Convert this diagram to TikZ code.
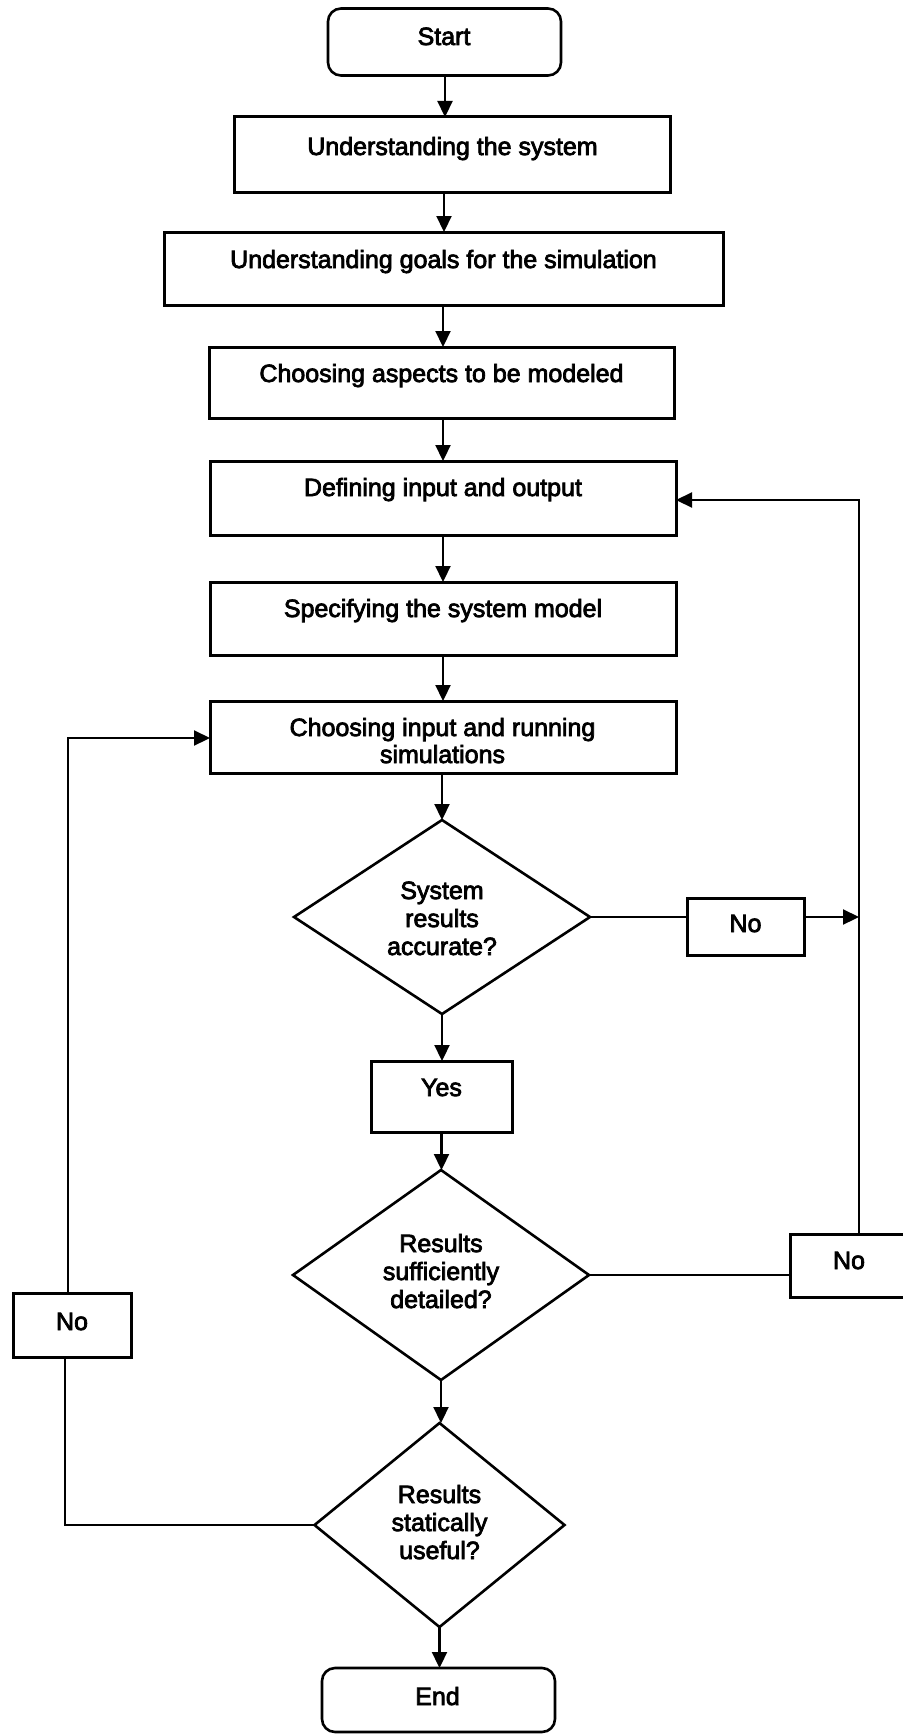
\documentclass[tikz,border=0pt]{standalone}
\usepackage{fontspec}
\setmainfont{Liberation Sans}[RawFeature={embolden=3}]
\usetikzlibrary{shapes.geometric,arrows.meta}
\begin{document}
\begin{tikzpicture}[x=1pt,y=-1pt,
  box/.style={draw, line width=3pt, inner sep=0pt, outer sep=0pt},
  term/.style={box, line width=2.6pt, rounded corners=13pt},
  dia/.style={draw, diamond, line width=2.6pt, inner sep=0pt, outer sep=0pt},
  txt/.style={font=\fontsize{25}{28}\selectfont, inner sep=0pt, anchor=base},
  mtxt/.style={font=\fontsize{25}{27}\selectfont, align=center, inner sep=0pt, anchor=base},
  dtxt/.style={font=\fontsize{25}{28}\selectfont, align=center, inner sep=0pt, anchor=base},
  conn/.style={line width=2.2pt},
  arr/.style={conn, -{Triangle[length=16pt,width=15pt]}}
]
\useasboundingbox (0,0) rectangle (902,1734);
% boxes
\node[term, minimum width=233pt, minimum height=67pt] (start) at (444.5,42) {};
\node[txt] (startt) at (444,45) {Start};
\node[box, minimum width=436pt, minimum height=75pt] (und) at (452,154.5) {};
\node[txt] (undt) at (452.5,155) {Understanding the system};
\node[box, minimum width=559pt, minimum height=73pt] (goals) at (443.5,268.5) {};
\node[txt] (goalst) at (443.5,268) {Understanding goals for the simulation};
\node[box, minimum width=465pt, minimum height=71pt] (asp) at (441.5,382.5) {};
\node[txt] (aspt) at (441.5,382) {Choosing aspects to be modeled};
\node[box, minimum width=466pt, minimum height=74pt] (def) at (443,498) {};
\node[txt] (deft) at (443,496) {Defining input and output};
\node[box, minimum width=466pt, minimum height=73pt] (spec) at (443,618.5) {};
\node[txt] (spect) at (443,617) {Specifying the system model};
\node[box, minimum width=466pt, minimum height=72pt] (choose) at (443,737) {};
\node[mtxt] (chooset) at (442.5,763) {Choosing input and running\\simulations};
% decisions
\node[dia, minimum width=296pt, minimum height=194pt] (d1) at (442,917) {};
\node[dtxt] (d1t) at (442,955) {System\\results\\accurate?};
\node[box, minimum width=117pt, minimum height=57pt] (no1) at (745.5,926.5) {};
\node[txt] (no1t) at (745.5,932) {No};
\node[box, minimum width=141pt, minimum height=71pt] (yes) at (441.5,1096.5) {};
\node[txt] (yest) at (441.5,1096) {Yes};
\node[dia, minimum width=296pt, minimum height=210pt] (d2) at (441,1275) {};
\node[dtxt] (d2t) at (441,1308) {Results\\sufficiently\\detailed?};
\node[box, minimum width=130pt, minimum height=63pt] (no2) at (855,1265.5) {};
\node[txt] (no2t) at (849,1269) {No};
\node[box, minimum width=118pt, minimum height=64pt] (no3) at (72,1325) {};
\node[txt] (no3t) at (72,1330) {No};
\node[dia, minimum width=250pt, minimum height=204pt] (d3) at (439.5,1525) {};
\node[dtxt] (d3t) at (439.5,1559) {Results\\statically\\useful?};
\node[term, minimum width=233pt, minimum height=64pt] (end) at (438.5,1700) {};
\node[txt] (endt) at (437.5,1705) {End};
% junction points
\coordinate (rtop) at (859,500);
\coordinate (rmid) at (859,917);
\coordinate (ltop) at (68,738);
\coordinate (lbot) at (65,1525);
% main flow
\draw[arr] (start.south -| 445,0) -- (445,0 |- und.north);
\draw[arr] (und.south -| 444,0) -- (444,0 |- goals.north);
\draw[arr] (goals.south -| 443,0) -- (443,0 |- asp.north);
\draw[arr] (asp.south -| 443,0) -- (443,0 |- def.north);
\draw[arr] (def.south) -- (def.south |- spec.north);
\draw[arr] (spec.south) -- (spec.south |- choose.north);
\draw[arr] (choose.south -| d1.north) -- (d1.north);
\draw[arr] (d1.south) -- (d1.south |- yes.north);
\draw[arr] (yes.south) -- (yes.south |- d2.north);
\draw[arr] (d2.south) -- (d2.south |- d3.north);
\draw[arr] (d3.south) -- (d3.south |- end.north);
% right loops
\draw[conn] (d1.east) -- (d1.east -| no1.west);
\draw[arr] (no1.east |- rmid) -- (rmid);
\draw[conn] (d2.east) -- (d2.east -| no2.west);
\draw[arr] (no2.north -| rtop) -- (rtop) -- (rtop -| def.east);
% left loop
\draw[conn] (d3.west) -- (lbot) -- (lbot |- no3.south);
\draw[arr] (ltop |- no3.north) -- (ltop) -- (ltop -| choose.west);
\end{tikzpicture}
\end{document}
